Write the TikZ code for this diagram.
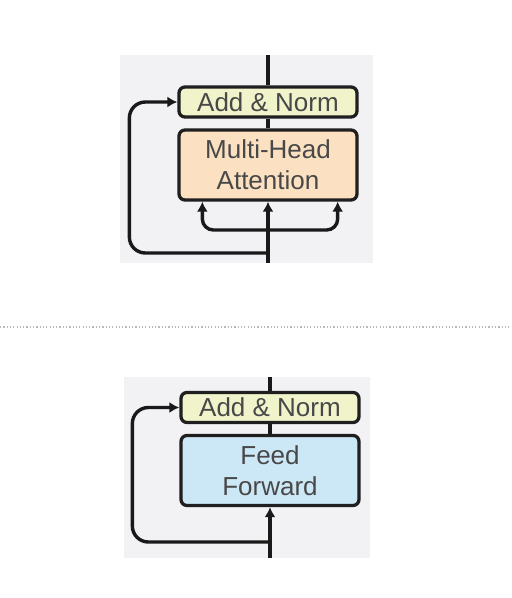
\documentclass[tikz,border=0pt]{standalone}
\usepackage{fontspec}
\setmainfont{Liberation Sans}
\usetikzlibrary{arrows.meta}
\definecolor{panelgray}{HTML}{F2F2F5}
\definecolor{normfill}{HTML}{F1F4CA}
\definecolor{attnfill}{HTML}{FBE1C2}
\definecolor{ffwdfill}{HTML}{CCE7F5}
\definecolor{labelgray}{HTML}{484848}
\begin{document}
\begin{tikzpicture}[x=1pt,y=-1pt,
  block/.style={draw=black!88, line width=3.3pt, rounded corners=6pt, minimum width=178pt,
    inner sep=0pt, align=center, text=labelgray, font=\fontsize{26}{31}\selectfont},
  wire/.style={line width=3.4pt, black!90},
  arr/.style={wire, -{Latex[length=10pt,width=11pt]}}]
\useasboundingbox (0,0) rectangle (512,598);

% upper panel: attention sublayer
\fill[panelgray] (120,55) rectangle (373,263);
\node[block, fill=normfill, minimum height=30pt] (norm1) at (268,102) {Add \& Norm};
\node[block, fill=attnfill, minimum height=70pt] (attn) at (268,165) {Multi-Head\\Attention};
\coordinate (in1) at (268,263);
\coordinate (out1) at (268,55);
\coordinate (split1) at (268,230);
\coordinate (res1) at (268,253);
\draw[arr] (in1) -- (attn.south);
\draw[arr, rounded corners=11pt] (split1) -| ([xshift=25pt]attn.south west);
\draw[arr, rounded corners=11pt] (split1) -| ([xshift=-21pt]attn.south east);
\draw[arr, rounded corners=16pt] (res1) -| ([xshift=-48pt]norm1.west) -- (norm1.west);
\draw[wire] (attn.north) -- (norm1.south);
\draw[wire] (norm1.north) -- (out1);

% separator
\draw[gray!55, line width=1.2pt, dash pattern=on 1.2pt off 2.1pt] (0,327) -- (512,327);

% lower panel: feed forward sublayer
\fill[panelgray] (124,377) rectangle (370,558);
\node[block, fill=normfill, minimum height=30pt] (norm2) at (270,407.5) {Add \& Norm};
\node[block, fill=ffwdfill, minimum height=70pt] (ffwd) at (270,470.5) {Feed\\Forward};
\coordinate (in2) at (270,558);
\coordinate (out2) at (270,377);
\coordinate (res2) at (270,542);
\draw[arr] (in2) -- (ffwd.south);
\draw[arr, rounded corners=16pt] (res2) -| ([xshift=-47pt]norm2.west) -- (norm2.west);
\draw[wire] (ffwd.north) -- (norm2.south);
\draw[wire] (norm2.north) -- (out2);
\end{tikzpicture}
\end{document}
